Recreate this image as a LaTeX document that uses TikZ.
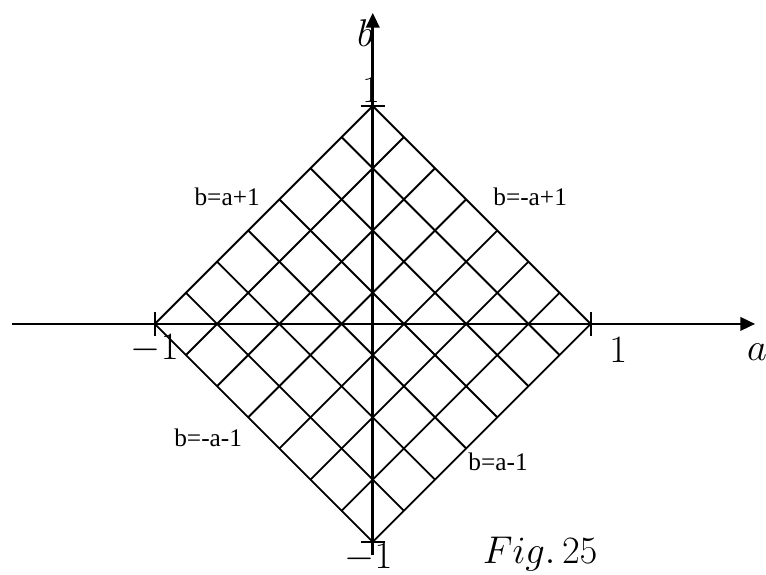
\documentclass[tikz,border=0pt]{standalone}
\usepackage{fix-cm}
\usepackage{fontspec}
\setmainfont{Liberation Serif}
\newfontfamily\eqfont{Liberation Serif}
\usetikzlibrary{arrows.meta,calc}

\begin{document}
\begin{tikzpicture}[
 x=163.5pt,y=163.5pt,
 axis/.style={line width=1.9pt,-{Triangle[length=11pt,width=10pt]}},
 gridline/.style={line width=1.4pt},
 tickmark/.style={line width=1.4pt},
 eqlabel/.style={font=\eqfont\fontsize{19}{21}\selectfont},
 numlabel/.style={font=\fontsize{29}{32}\selectfont}
]
\useasboundingbox (-1.710,-1.151) rectangle (1.804,1.486);
% square corners
\coordinate (L) at (-1,0);
\coordinate (T) at (0,1);
\coordinate (R) at (1,0);
\coordinate (B) at (0,-1);
% grid inside the square
\foreach \k in {1,...,6}{
  \draw[gridline] ($(L)!\k/7!(B)$) -- ($(T)!\k/7!(R)$);
  \draw[gridline] ($(L)!\k/7!(T)$) -- ($(B)!\k/7!(R)$);
}
\draw[gridline] (L) -- (T) -- (R) -- (B) -- cycle;
% axes
\coordinate (xstart) at (-1.655,0);
\coordinate (xend) at (1.754,0);
\coordinate (ystart) at (0,-1.06);
\coordinate (yend) at (0,1.427);
\draw[axis] (xstart) -- (xend);
\draw[axis] (ystart) -- (yend);
% ticks
\foreach \c in {L,R}
  \draw[tickmark] ($(\c)+(0,-0.055)$) -- ($(\c)+(0,0.055)$);
\foreach \c in {T,B}
  \draw[tickmark] ($(\c)+(-0.055,0)$) -- ($(\c)+(0.055,0)$);
% labels
\node[numlabel] (blab) at (-0.035,1.335) {$b$};
\node[numlabel] (alab) at (1.763,-0.128) {$a$};
\node[numlabel] (topone) at (-0.008,1.073) {$1$};
\node[numlabel] (leftone) at (-1.0,-0.115) {$-1$};
\node[numlabel] (rightone) at (1.126,-0.119) {$1$};
\node[numlabel] (botone) at (-0.02,-1.073) {$-1$};
\node[numlabel,inner sep=0pt,anchor=base] (figlab) at (0.768,-1.10) {$Fig.\,25$};
\node[eqlabel] (lineul) at (-0.668,0.583) {b=a+1};
\node[eqlabel] (lineur) at (0.722,0.583) {b=-a+1};
\node[eqlabel] (linell) at (-0.755,-0.523) {b=-a-1};
\node[eqlabel] (linelr) at (0.575,-0.633) {b=a-1};
\end{tikzpicture}
\end{document}
